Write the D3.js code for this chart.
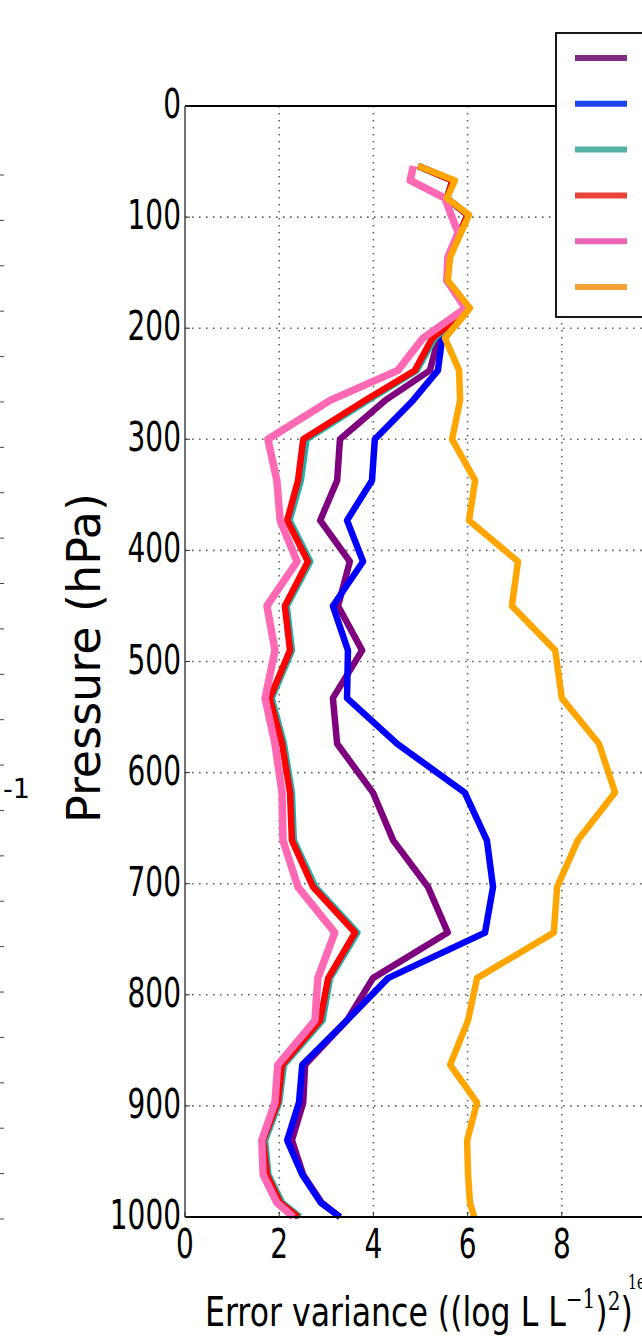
<!DOCTYPE html>
<html><head><meta charset="utf-8">
<script src="https://cdn.jsdelivr.net/npm/d3@7"></script>
<style>body{margin:0;background:#fff}svg{display:block}</style>
</head><body>
<script>
const levels = [54,67,83,98,114,136,157,182,209,238,265,300,337,373,410,450,490,533,574,618,661,703,744,785,823,863,897,931,962,987,1000];
const purpleVals = [4.95,5.68,5.56,6.00,5.84,5.60,5.56,6.03,5.38,5.20,4.25,3.29,3.23,2.87,3.50,3.25,3.76,3.14,3.23,3.99,4.42,5.16,5.58,3.99,3.44,2.55,2.51,2.27,2.51,2.90,3.29];
const blueVals   = [4.95,5.68,5.56,6.00,5.84,5.60,5.56,6.03,5.46,5.37,4.84,4.03,3.97,3.44,3.78,3.14,3.46,3.44,4.50,5.94,6.41,6.54,6.37,4.31,3.44,2.49,2.42,2.17,2.49,2.88,3.29];
const tealVals   = [4.95,5.68,5.56,6.00,5.84,5.60,5.56,6.03,5.30,4.92,3.88,2.58,2.46,2.22,2.66,2.16,2.27,1.84,2.10,2.27,2.31,2.77,3.66,3.08,2.92,2.10,2.00,1.70,1.77,2.06,2.44];
const redVals    = [4.95,5.68,5.56,6.00,5.84,5.60,5.56,6.03,5.25,4.88,3.82,2.51,2.40,2.17,2.61,2.12,2.23,1.80,2.06,2.23,2.27,2.72,3.61,3.04,2.87,2.06,1.97,1.66,1.74,2.02,2.40];
const pinkVals   = [4.85,4.78,5.52,5.65,5.80,5.58,5.56,5.95,5.05,4.52,3.08,1.76,1.95,2.02,2.38,1.74,1.91,1.70,1.91,2.06,2.08,2.40,3.18,2.82,2.76,1.97,1.91,1.63,1.66,1.95,2.30];
const orangeVals = [4.95,5.73,5.56,6.03,5.86,5.63,5.58,6.05,5.52,5.82,5.84,5.67,6.16,6.03,7.07,6.94,7.86,8.00,8.79,9.13,8.34,7.90,7.83,6.20,6.01,5.63,6.20,5.99,6.01,6.05,6.14];
const seriesColors = ["#7f007f","#0000ff","#20b2aa","#ff0000","#ff69b4","#ffa500"];
const legendColors = ["#7d2c7f","#1d44f5","#52b3a4","#e8453a","#ea64b5","#f3a333"];
const xTicks = [0,2,4,6,8];
const yTicks = [0,100,200,300,400,500,600,700,800,900,1000];
const neighborTicks = d3.range(0,24);

const series = [purpleVals, blueVals, tealVals, redVals, pinkVals, orangeVals];

const W = 642, H = 1340;
const svg = d3.select("body").append("svg").attr("width", W).attr("height", H);

const x = d3.scaleLinear().domain([0,10]).range([185,656]);
const y = d3.scaleLinear().domain([0,1000]).range([106,1217]);

// grid
const grid = svg.append("g").attr("stroke","#666").attr("stroke-width",1.6).attr("stroke-dasharray","1.6,5.4");
grid.selectAll("line.h").data(yTicks.slice(1,-1)).join("line")
  .attr("x1",185).attr("x2",W).attr("y1",d=>y(d)).attr("y2",d=>y(d));
grid.selectAll("line.v").data(xTicks.slice(1)).join("line")
  .attr("y1",106).attr("y2",1217).attr("x1",d=>x(d)).attr("x2",d=>x(d));

// lines
const line = d3.line().x(d=>x(d[0])).y(d=>y(d[1]));
series.forEach((vals,i)=>{
  svg.append("path").datum(vals.map((v,j)=>[v,levels[j]]))
    .attr("d",line).attr("fill","none").attr("stroke",seriesColors[i])
    .attr("stroke-width", i===4 ? 7.5 : 6.5).attr("stroke-linejoin","round");
});

// spines
svg.append("line").attr("x1",185).attr("x2",W).attr("y1",106).attr("y2",106).attr("stroke","#000").attr("stroke-width",2);
svg.append("line").attr("x1",185).attr("x2",W).attr("y1",1217).attr("y2",1217).attr("stroke","#000").attr("stroke-width",2);
svg.append("line").attr("x1",185).attr("x2",185).attr("y1",106).attr("y2",1217).attr("stroke","#444").attr("stroke-width",1.5);

// ticks (inward)
svg.append("g").selectAll("line").data(yTicks).join("line")
  .attr("x1",185).attr("x2",190).attr("y1",d=>y(d)).attr("y2",d=>y(d)).attr("stroke","#333").attr("stroke-width",1);
svg.append("g").selectAll("line").data(xTicks).join("line")
  .attr("y1",1217).attr("y2",1212).attr("x1",d=>x(d)).attr("x2",d=>x(d)).attr("stroke","#333").attr("stroke-width",1);

// tick labels
svg.append("g").selectAll("text").data(yTicks).join("text")
  .attr("transform",d=>`translate(181,${y(d)+12}) scale(0.7,1)`)
  .attr("text-anchor","end").attr("font-family","DejaVu Sans").attr("font-size",40).text(d=>d);
svg.append("g").selectAll("text").data(xTicks).join("text")
  .attr("transform",d=>`translate(${x(d)},1258) scale(0.7,1)`)
  .attr("text-anchor","middle").attr("font-family","DejaVu Sans").attr("font-size",40).text(d=>d);

// y label
svg.append("text").attr("transform","translate(100,658) rotate(-90)")
  .attr("text-anchor","middle").attr("font-family","DejaVu Sans").attr("font-size",46).text("Pressure (hPa)");

// x label
const xl = svg.append("text").attr("transform","translate(205,1326) scale(0.77,1)")
  .attr("font-family","DejaVu Sans").attr("font-size",41);
xl.append("tspan").text("Error variance ((log L L");
xl.append("tspan").attr("font-family","DejaVu Serif").attr("font-size",26).attr("dy",-18).text("\u22121");
xl.append("tspan").attr("dy",18).text(")");
xl.append("tspan").attr("font-family","DejaVu Serif").attr("font-size",26).attr("dy",-16).text("2");
xl.append("tspan").attr("dy",16).text(")");

// offset text
svg.append("text").attr("transform","translate(628,1289) scale(0.7,1)")
  .attr("font-family","DejaVu Serif").attr("font-size",20).text("1e\u22125");

// neighbor panel remnants
const ny = d3.scaleLinear().domain([0,23]).range([175,1219]);
svg.append("g").selectAll("line").data(neighborTicks).join("line")
  .attr("x1",0).attr("x2",4).attr("y1",d=>ny(d)).attr("y2",d=>ny(d)).attr("stroke","#444").attr("stroke-width",1);
svg.append("text").attr("x",3).attr("y",798).attr("font-family","DejaVu Sans").attr("font-size",27).text("-1");

// legend
const lg = svg.append("g");
lg.append("rect").attr("x",556).attr("y",33).attr("width",200).attr("height",284)
  .attr("fill","#fff").attr("stroke","#000").attr("stroke-width",1.8);
const ly = d3.scalePoint().domain(d3.range(6)).range([58,287]);
lg.selectAll("line").data(legendColors).join("line")
  .attr("x1",575).attr("x2",627).attr("y1",(d,i)=>ly(i)).attr("y2",(d,i)=>ly(i))
  .attr("stroke",d=>d).attr("stroke-width",6);
</script>
</body></html>
